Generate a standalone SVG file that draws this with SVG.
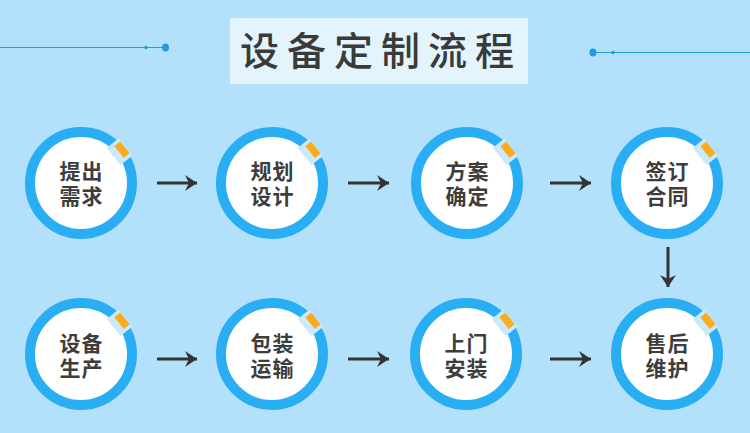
<svg xmlns="http://www.w3.org/2000/svg" width="750" height="433" viewBox="0 0 750 433">
<defs>
<style>
.bg{fill:#b3e1fc}
.tbox{fill:#e3f4fd}
.title{font-family:"Noto Sans CJK SC","Noto Sans",sans-serif;font-size:39px;font-weight:500;fill:#3a3a3a;letter-spacing:8px}
.ring{fill:#ffffff;stroke:#2aaef3;stroke-width:10}
.gap{fill:#cbe9fb}
.tag{fill:#fbab1b}
.lbl{font-family:"Noto Sans CJK SC","Noto Sans",sans-serif;font-size:21px;font-weight:700;fill:#3d3d3d;text-anchor:middle;letter-spacing:1px}
.deco{stroke:#1f9de3;stroke-width:1.2;fill:none}
.dot{fill:#1f9de3}
.arr{stroke:#333333;stroke-width:3;fill:none}
</style>
<marker id="ah" markerUnits="userSpaceOnUse" markerWidth="16" markerHeight="18" viewBox="-13 -9 14 18" refX="0" refY="0" orient="auto">
<path d="M0,0 L-12,-8 L-8,0 L-12,8 Z" fill="#333333"/>
</marker>
<g id="mk">
<rect class="gap" x="42" y="-11" width="15" height="22"/>
<rect class="tag" x="49" y="-7.5" width="7.5" height="15"/>
</g>
</defs>
<rect class="bg" x="0" y="0" width="750" height="433"/>
<g id="title">
<line class="deco" x1="0" y1="47.5" x2="165" y2="47.5"/>
<circle class="dot" cx="146" cy="47.5" r="1.8"/>
<ellipse class="dot" cx="165.5" cy="47.5" rx="3.5" ry="4"/>
<line class="deco" x1="593" y1="52.5" x2="750" y2="52.5"/>
<circle class="dot" cx="613" cy="52.5" r="1.8"/>
<ellipse class="dot" cx="593" cy="52.5" rx="3.5" ry="4"/>
<rect class="tbox" x="230" y="18" width="298" height="66"/>
<text class="title" x="381" y="65" text-anchor="middle">设备定制流程</text>
</g>
<g id="connectors">
<line class="arr" x1="157" y1="183" x2="197" y2="183" marker-end="url(#ah)"/>
<line class="arr" x1="348" y1="183" x2="389" y2="183" marker-end="url(#ah)"/>
<line class="arr" x1="550" y1="183" x2="591" y2="183" marker-end="url(#ah)"/>
<line class="arr" x1="668" y1="247" x2="668" y2="287" marker-end="url(#ah)"/>
<line class="arr" x1="157" y1="359" x2="197" y2="359" marker-end="url(#ah)"/>
<line class="arr" x1="348" y1="359" x2="389" y2="359" marker-end="url(#ah)"/>
<line class="arr" x1="550" y1="359" x2="591" y2="359" marker-end="url(#ah)"/>
</g>
<g id="n1">
<circle class="ring" cx="81" cy="183" r="51"/>
<use href="#mk" transform="translate(81,183) rotate(-39)"/>
<text class="lbl"><tspan x="81.5" y="179">提出</tspan><tspan x="81.5" y="204">需求</tspan></text>
</g>
<g id="n2">
<circle class="ring" cx="272" cy="183" r="51"/>
<use href="#mk" transform="translate(272,183) rotate(-39)"/>
<text class="lbl"><tspan x="272.5" y="179">规划</tspan><tspan x="272.5" y="204">设计</tspan></text>
</g>
<g id="n3">
<circle class="ring" cx="467" cy="183" r="51"/>
<use href="#mk" transform="translate(467,183) rotate(-39)"/>
<text class="lbl"><tspan x="467.5" y="179">方案</tspan><tspan x="467.5" y="204">确定</tspan></text>
</g>
<g id="n4">
<circle class="ring" cx="667" cy="183" r="51"/>
<use href="#mk" transform="translate(667,183) rotate(-39)"/>
<text class="lbl"><tspan x="667.5" y="179">签订</tspan><tspan x="667.5" y="204">合同</tspan></text>
</g>
<g id="n5">
<circle class="ring" cx="81" cy="354" r="51"/>
<use href="#mk" transform="translate(81,354) rotate(-39)"/>
<text class="lbl"><tspan x="81.5" y="351">设备</tspan><tspan x="81.5" y="376">生产</tspan></text>
</g>
<g id="n6">
<circle class="ring" cx="272" cy="354" r="51"/>
<use href="#mk" transform="translate(272,354) rotate(-39)"/>
<text class="lbl"><tspan x="272.5" y="351">包装</tspan><tspan x="272.5" y="376">运输</tspan></text>
</g>
<g id="n7">
<circle class="ring" cx="466" cy="354" r="51"/>
<use href="#mk" transform="translate(466,354) rotate(-39)"/>
<text class="lbl"><tspan x="466.5" y="351">上门</tspan><tspan x="466.5" y="376">安装</tspan></text>
</g>
<g id="n8">
<circle class="ring" cx="667" cy="354" r="51"/>
<use href="#mk" transform="translate(667,354) rotate(-39)"/>
<text class="lbl"><tspan x="667.5" y="351">售后</tspan><tspan x="667.5" y="376">维护</tspan></text>
</g>
</svg>
